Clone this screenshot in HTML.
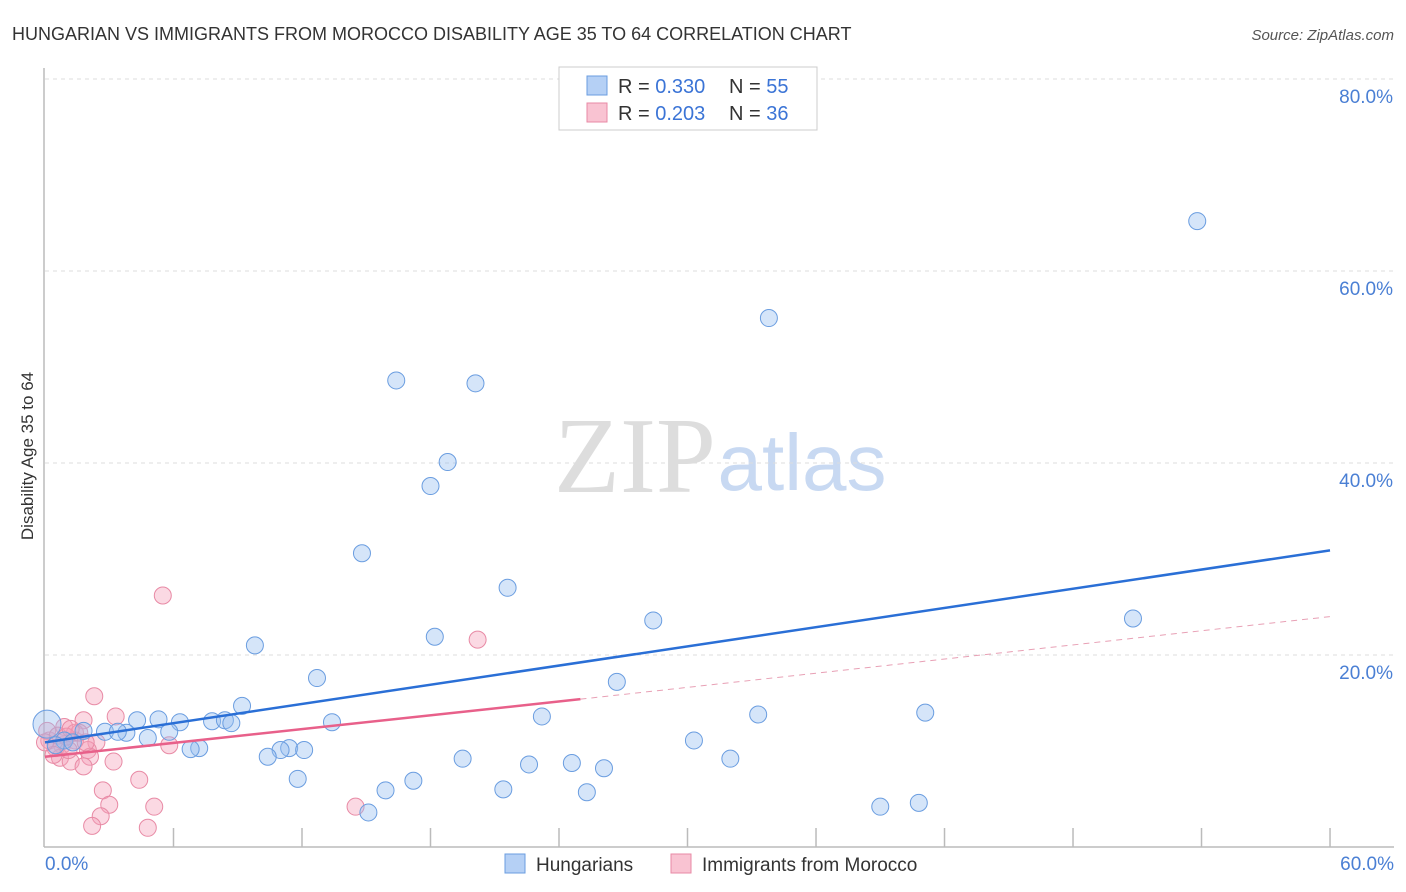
<!DOCTYPE html>
<html><head><meta charset="utf-8"><style>
body{margin:0;background:#fff;font-family:"Liberation Sans",sans-serif;}
#wrap{position:relative;width:1406px;height:892px;overflow:hidden;}
svg{position:absolute;left:0;top:0}
</style></head><body><div id="wrap">
<svg id="s" width="1406" height="892">
<text x="12" y="40" font-size="18" fill="#333">HUNGARIAN VS IMMIGRANTS FROM MOROCCO DISABILITY AGE 35 TO 64 CORRELATION CHART</text>
<text x="1394" y="40" font-size="15" fill="#555" font-style="italic" text-anchor="end">Source: ZipAtlas.com</text>
<text transform="translate(33,456) rotate(-90)" font-size="17" fill="#333" text-anchor="middle">Disability Age 35 to 64</text>
<g><text x="635" y="492" font-size="108" font-family="Liberation Serif,serif" fill="#ddd" text-anchor="middle">ZIP</text><text x="802" y="490" font-size="80" fill="#c8d9f2" text-anchor="middle">atlas</text></g>
<g id="grid"></g><g id="marks"></g><g id="lines"></g>
<g>
<rect x="559" y="67" width="258" height="63" fill="#fff" stroke="#ccc"/>
<rect x="587" y="76" width="20" height="19" fill="#b5d0f5" stroke="#6a9de0"/>
<rect x="587" y="103" width="20" height="19" fill="#f9c3d2" stroke="#e88aa5"/>
<text x="618" y="93" font-size="20" fill="#333">R = <tspan fill="#3b74d6">0.330</tspan></text>
<text x="729" y="93" font-size="20" fill="#333">N = <tspan fill="#3b74d6">55</tspan></text>
<text x="618" y="120" font-size="20" fill="#333">R = <tspan fill="#3b74d6">0.203</tspan></text>
<text x="729" y="120" font-size="20" fill="#333">N = <tspan fill="#3b74d6">36</tspan></text>
</g>
<g>
<rect x="505" y="854" width="20" height="19" fill="#b5d0f5" stroke="#6a9de0"/>
<text x="536" y="871" font-size="19" fill="#333">Hungarians</text>
<rect x="671" y="854" width="20" height="19" fill="#f9c3d2" stroke="#e88aa5"/>
<text x="702" y="871" font-size="19" fill="#333">Immigrants from Morocco</text>
</g>
</svg></div>
<script>
const blueX=[53.8,33.8,16.4,20.1,18.8,18.0,14.8,21.6,50.8,28.4,18.2,9.8,26.7,12.7,9.2,23.2,33.3,41.1,13.4,4.3,5.3,6.3,7.8,8.4,8.7,5.8,4.8,3.8,2.8,3.4,1.8,30.3,11.4,11.0,12.1,7.2,6.8,10.4,19.5,32.0,22.6,24.6,26.1,11.8,17.2,15.9,21.4,25.3,15.1,39.0,40.8,0.9,1.3,0.5,0.0];
const blueY=[65.2,55.1,48.6,48.3,40.1,37.6,30.6,27.0,23.8,23.6,21.9,21.0,17.2,17.6,14.7,13.6,13.8,14.0,13.0,13.2,13.3,13.0,13.1,13.2,12.9,12.0,11.35,11.9,12.0,12.0,12.1,11.1,10.3,10.1,10.1,10.3,10.2,9.4,9.2,9.2,8.6,8.75,8.2,7.1,6.9,5.9,6.0,5.7,3.6,4.2,4.6,11.1,10.9,10.6,12.8];
const pinkX=[5.5,20.2,2.3,3.3,1.8,0.9,2.4,5.8,1.4,0.8,0.2,0.5,2.0,2.1,0.7,1.2,1.8,3.2,4.4,2.7,3.0,5.1,2.6,2.2,4.8,14.5,1.4,1.6,0.1,0.6,1.1,0.4,0.0,1.0,1.9,1.2];
const pinkY=[26.2,21.6,15.7,13.6,13.2,12.5,10.9,10.6,11.9,10.6,11.1,10.3,10.1,9.4,9.3,8.9,8.4,8.9,7.0,5.9,4.4,4.2,3.2,2.2,2.0,4.2,11.1,11.9,12.1,11.6,10.1,9.6,10.9,11.5,10.9,12.3];
const blueTrend=[[0,10.9],[60,30.9]];
const pinkTrend=[[0,9.4],[25,15.4],[60,24.0]];
const yTicks=[20,40,60,80];
const xTicks=[6,12,18,24,30,36,42,48,54,60];
const X=v=>45+v*21.417, Y=v=>847-v*9.6;
const NS="http://www.w3.org/2000/svg";
function mk(t,a,p){const e=document.createElementNS(NS,t);for(const k in a)e.setAttribute(k,a[k]);p.appendChild(e);return e;}
const g=document.getElementById('grid');
let ax=mk('line',{x1:44,y1:68,x2:44,y2:847,stroke:'#bbb','stroke-width':1.5},g);


let bx=mk('line',{x1:44,y1:847,x2:1394,y2:847,stroke:'#bbb','stroke-width':1.5},g);


yTicks.forEach(v=>{let l=mk('line',{x1:45,y1:Y(v),x2:1394,y2:Y(v),stroke:'#ddd','stroke-dasharray':'4,4'},g);


let t=mk('text',{x:1393,y:Y(v)+24,'font-size':19,fill:'#4a7fd4','text-anchor':'end'},g);t.textContent=v.toFixed(1)+'%';

});
xTicks.forEach(v=>{let l=mk('line',{x1:X(v),y1:828,x2:X(v),y2:847,stroke:'#bbb','stroke-width':1.5},g);

});
[[0,'start',45],[60,'end',1394]].forEach(([v,a,x])=>{let t=mk('text',{x:x,y:870,'font-size':19,fill:'#4a7fd4','text-anchor':a},g);t.textContent=v.toFixed(1)+'%';

});
const m=document.getElementById('marks');
pinkX.forEach((v,i)=>{let c=mk('circle',{cx:X(v),cy:Y(pinkY[i]),r:8.5,fill:'rgba(245,160,185,0.4)',stroke:'#e88aa5','stroke-width':1},m);

});
blueX.forEach((v,i)=>{let big=i===blueX.length-1;let c=mk('circle',{cx:X(v)+(big?2:0),cy:Y(blueY[i]),r:big?14:8.5,fill:'rgba(150,190,240,0.4)',stroke:'#6a9de0','stroke-width':1},m);

});
const L=document.getElementById('lines');
let bl=mk('line',{x1:X(blueTrend[0][0]),y1:Y(blueTrend[0][1]),x2:X(blueTrend[1][0]),y2:Y(blueTrend[1][1]),stroke:'#2a6fd6','stroke-width':2.5},L);


let pl=mk('line',{x1:X(pinkTrend[0][0]),y1:Y(pinkTrend[0][1]),x2:X(pinkTrend[1][0]),y2:Y(pinkTrend[1][1]),stroke:'#e8608a','stroke-width':2.5},L);


let pd=mk('line',{x1:X(pinkTrend[1][0]),y1:Y(pinkTrend[1][1]),x2:X(pinkTrend[2][0]),y2:Y(pinkTrend[2][1]),stroke:'#e8a0b5','stroke-width':1,'stroke-dasharray':'6,5'},L);


</script></body></html>
